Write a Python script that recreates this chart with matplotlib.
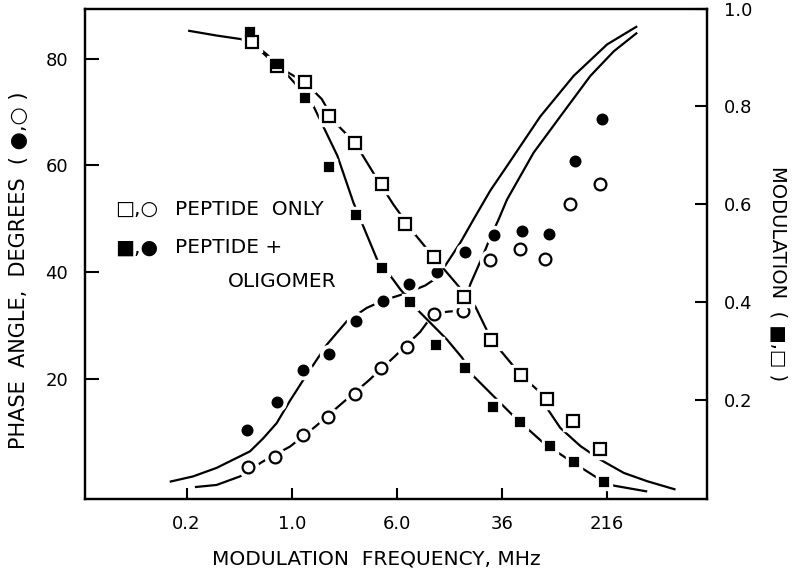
import matplotlib
matplotlib.use("Agg")
import matplotlib.pyplot as plt

# ── measured points (frequency in MHz) ──
# phase angle, peptide only (open circles)
freq_phase_open = [0.472, 0.752, 1.206, 1.85, 2.945, 4.59, 7.12, 11.3, 18.4, 29.1, 48.6, 75.4, 115.5, 192.7]
phase_open = [3.4, 5.3, 9.4, 12.9, 17.2, 22.0, 26.0, 32.1, 32.8, 42.2, 44.4, 42.5, 52.7, 56.6]
# phase angle, peptide + oligomer (filled circles)
freq_phase_filled = [0.464, 0.774, 1.219, 1.90, 2.995, 4.77, 7.44, 11.9, 19.2, 31.2, 50.6, 80.7, 125.7, 198.0]
phase_filled = [10.4, 15.7, 21.7, 24.7, 30.9, 34.6, 37.8, 40.0, 43.8, 47.0, 47.7, 47.2, 60.8, 68.8]
# modulation, peptide only (open squares)
freq_mod_open = [0.505, 0.774, 1.255, 1.90, 2.945, 4.645, 6.91, 11.21, 19.0, 30.0, 49.8, 77.6, 120.0, 190.0]
mod_open = [0.931, 0.883, 0.849, 0.781, 0.725, 0.641, 0.559, 0.492, 0.410, 0.323, 0.250, 0.202, 0.156, 0.099]
# modulation, peptide + oligomer (filled squares)
freq_mod_filled = [0.491, 0.774, 1.255, 1.90, 2.995, 4.645, 7.46, 11.6, 19.2, 30.7, 49.2, 82.1, 122.0, 204.0]
mod_filled = [0.952, 0.887, 0.817, 0.676, 0.577, 0.470, 0.400, 0.311, 0.264, 0.184, 0.155, 0.106, 0.073, 0.031]

# ── fitted curves ──
fit_phase_filled_f = [0.125, 0.186, 0.278, 0.491, 0.613, 0.774, 0.971, 1.219, 1.817, 2.557, 3.596, 4.77,
                      7.12, 9.73, 11.94, 14.08, 17.67, 22.18, 29.5, 39.2, 69.2, 122.1, 216.0, 360.6]
fit_phase_filled = [0.7, 1.7, 3.3, 6.4, 8.8, 11.7, 15.9, 19.8, 26.4, 30.8, 33.3, 34.7,
                    36.1, 37.5, 39.0, 41.7, 45.5, 49.9, 55.3, 59.9, 69.2, 76.8, 82.7, 86.1]
fit_phase_open_f = [0.192, 0.278, 0.414, 0.602, 0.971, 1.489, 2.28, 3.68, 5.73, 8.93, 11.21, 14.4,
                    18.4, 20.96, 24.0, 27.1, 29.5, 34.0, 39.2, 61.7, 97.3, 162.4, 241.8, 360.6]
fit_phase_open = [-0.3, 0.1, 1.7, 4.4, 7.3, 11.0, 15.1, 19.6, 24.1, 28.8, 32.2, 32.6,
                  32.8, 37.7, 41.1, 44.2, 46.5, 49.9, 53.6, 62.4, 69.2, 76.8, 81.4, 84.9]
fit_mod_filled_f = [0.171, 0.278, 0.414, 0.508, 0.774, 1.058, 1.446, 2.177, 2.863, 4.385, 5.35, 6.35, 8.44,
                    14.08, 18.2, 22.18, 43.9, 73.2, 112.2, 182.2, 241.8, 427.6]
fit_mod_filled = [0.955, 0.945, 0.938, 0.932, 0.889, 0.847, 0.801, 0.699, 0.603, 0.480, 0.454, 0.426, 0.385,
                  0.323, 0.286, 0.248, 0.166, 0.111, 0.077, 0.040, 0.024, 0.012]
fit_mod_open_f = [0.505, 0.774, 1.255, 1.669, 2.093, 2.945, 4.143, 5.63, 7.96, 11.21, 17.17, 22.8,
                  30.0, 49.8, 77.6, 79.5, 97.3, 137.0, 192.7, 287.0, 427.6, 693.0]
fit_mod_open = [0.931, 0.883, 0.849, 0.815, 0.767, 0.725, 0.658, 0.600, 0.542, 0.492, 0.432, 0.391,
                0.323, 0.250, 0.202, 0.178, 0.142, 0.105, 0.077, 0.050, 0.033, 0.016]

freq_ticks = [1 / 6, 1, 6, 36, 216]
freq_tick_labels = ["0.2", "1.0", "6.0", "36", "216"]
phase_ticks = [20, 40, 60, 80]
mod_ticks = [0.2, 0.4, 0.6, 0.8, 1.0]
mod_tick_labels = ["0.2", "0.4", "0.6", "0.8", "1.0"]

plt.rcParams["font.family"] = ["DejaVu Sans"]
FS = 13
LW = 1.6

fig = plt.figure(figsize=(8.0, 5.78), dpi=100)
ax = fig.add_axes([0.106, 0.137, 0.778, 0.848])
ax2 = ax.twinx()

ax.set_xscale("log")
ax.set_xlim(0.0294, 1189)
ax.set_ylim(-2.5, 89.4)
ax2.set_ylim(-0.003, 1.0)


def draw(axis, f, v, ff, fv, marker, filled, ms):
    axis.plot(ff, fv, color="black", lw=LW, zorder=2, solid_capstyle="butt")
    # white halo gives the little gaps where the curve meets a marker
    axis.plot(f, v, ls="none", marker=marker, ms=ms + 6, mfc="white", mec="white", zorder=3)
    axis.plot(f, v, ls="none", marker=marker, ms=ms,
              mfc="black" if filled else "white", mec="black", mew=1.6, zorder=4)


draw(ax, freq_phase_open, phase_open, fit_phase_open_f, fit_phase_open, "o", False, 8.5)
draw(ax, freq_phase_filled, phase_filled, fit_phase_filled_f, fit_phase_filled, "o", True, 7)
draw(ax2, freq_mod_open, mod_open, fit_mod_open_f, fit_mod_open, "s", False, 8)
draw(ax2, freq_mod_filled, mod_filled, fit_mod_filled_f, fit_mod_filled, "s", True, 6)

ax.set_xticks(freq_ticks)
ax.set_xticklabels(freq_tick_labels)
ax.xaxis.set_minor_locator(matplotlib.ticker.NullLocator())
ax.set_yticks(phase_ticks)
ax2.set_yticks(mod_ticks)
ax2.set_yticklabels(mod_tick_labels)

ax.tick_params(axis="x", direction="in", length=8, width=1.5, pad=12, labelsize=FS, top=False)
ax.tick_params(axis="y", direction="in", length=10, width=1.5, pad=12, labelsize=FS, right=False)
ax2.tick_params(axis="y", direction="in", length=9, width=1.5, pad=12, labelsize=FS)
for a in (ax, ax2):
    for s in a.spines.values():
        s.set_linewidth(1.6)

# axis titles
fig.text(0.471, 0.017, "MODULATION  FREQUENCY, MHz", fontsize=FS + 1.5, ha="center", va="bottom")
fig.text(0.011, 0.532, "PHASE  ANGLE,  DEGREES  ( ●,○ )", fontsize=FS + 2, rotation=90,
         ha="left", va="center")
fig.text(0.985, 0.526, "MODULATION  ( ■,□ )", fontsize=FS + 1, rotation=-90,
         ha="right", va="center")

# legend as text
ax.text(0.048, 0.590, "□,○", fontsize=FS + 1.5, transform=ax.transAxes, va="center")
ax.text(0.145, 0.590, "PEPTIDE  ONLY", fontsize=FS + 1.5, transform=ax.transAxes, va="center")
ax.text(0.048, 0.512, "■,●", fontsize=FS + 1.5, transform=ax.transAxes, va="center")
ax.text(0.145, 0.512, "PEPTIDE +", fontsize=FS + 1.5, transform=ax.transAxes, va="center")
ax.text(0.405, 0.443, "OLIGOMER", fontsize=FS + 1.5, transform=ax.transAxes, va="center", ha="right")

fig.savefig("out.png", dpi=100)
